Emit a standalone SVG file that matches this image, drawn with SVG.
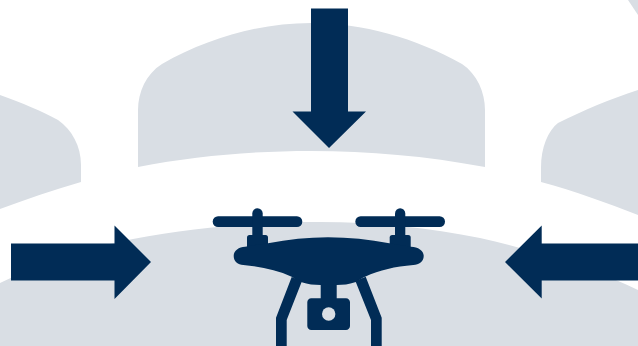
<svg xmlns="http://www.w3.org/2000/svg" width="638" height="346" viewBox="0 0 638 346">
<style>.bg{fill:#d9dee4}.dk{fill:#012c56}</style>
<rect width="638" height="346" fill="#fff"/>
<g id="backdrop">
<path class="bg" d="M138 167V110C138 92 146 74 162 64C208 38 260 23 311 23C362 23 416 38 462 64C477 74 485 92 485 110V167C425 156 370 151 311 151C252 151 195 156 138 167Z"/>
<path class="bg" d="M0 95C22 103 42 111 58 120C72 130 81 146 81 165V182C53 190 27 199 0 209Z"/>
<path class="bg" d="M638 90C610 99 584 110 558 123C548 131 541 147 541 168V182C575 191 607 203 638 215Z"/>
<path class="bg" d="M628 0H638V15Z"/>
<path class="bg" d="M0 283C45 261 95 246 133 239C195 227 260 222 320 222C375 222 430 228 480 238C540 252 592 268 638 290V346H0Z"/>
</g>
<g id="connectors">
<path class="dk" d="M311 8.500H348V111.500H366L329 148L292.500 111.500H311Z"/>
<path class="dk" d="M11 243.500H114.500V225.500L151 262L114.500 299V280.500H11Z"/>
<path class="dk" d="M638 243.500H541.700V225.500L505 262L541.700 298.500V280.500H638Z"/>
</g>
<g id="drone">
<rect class="dk" x="212.700" y="216.300" width="89.600" height="10.700" rx="5.350"/>
<rect class="dk" x="355.300" y="216.300" width="89.700" height="10.700" rx="5.350"/>
<path class="dk" d="M252.300 240V213.500A5.200 5.200 0 0 1 262.700 213.500V240Z"/>
<path class="dk" d="M395 240V213.500A5.150 5.150 0 0 1 405.300 213.500V240Z"/>
<rect class="dk" x="247" y="235" width="21" height="16" rx="2.500"/>
<rect class="dk" x="389.700" y="235" width="21" height="16" rx="2.500"/>
<path class="dk" d="M268 243.300C288 239.300 308 237.300 328 237.300C349 237.300 369 239.300 389.300 243.300L411 246.700C418 247 423.700 250.500 423.700 256C423.700 261.500 419 265 413.300 265C395 266.500 380 270 365 276.700C360 279 358 281.500 355 282.300C349 284.500 343 285 336.700 285V298.300H346C348.200 298.300 350 300 350 302.300V326C350 328.200 348.200 330 346 330H311.300C309 330 307.300 328.200 307.300 326V302.300C307.300 300 309 298.300 311.300 298.300H320.700V285C314 285 308 284.500 301.700 282.300C298 281.500 296 279 291.700 276.700C277 270 260 266.500 243.300 265C238 265 233.700 261.500 233.700 256C233.700 250.500 239 247 245 246.700Z"/>
<path class="dk" d="M291.700 277L302 281L286.700 320V346H276V317.700Z"/>
<path class="dk" d="M365.700 276.700L355.400 281L371 320V346H381.700V317.700Z"/>
<circle cx="328.700" cy="314" r="6.700" fill="#d9dee4"/>
</g>
</svg>
